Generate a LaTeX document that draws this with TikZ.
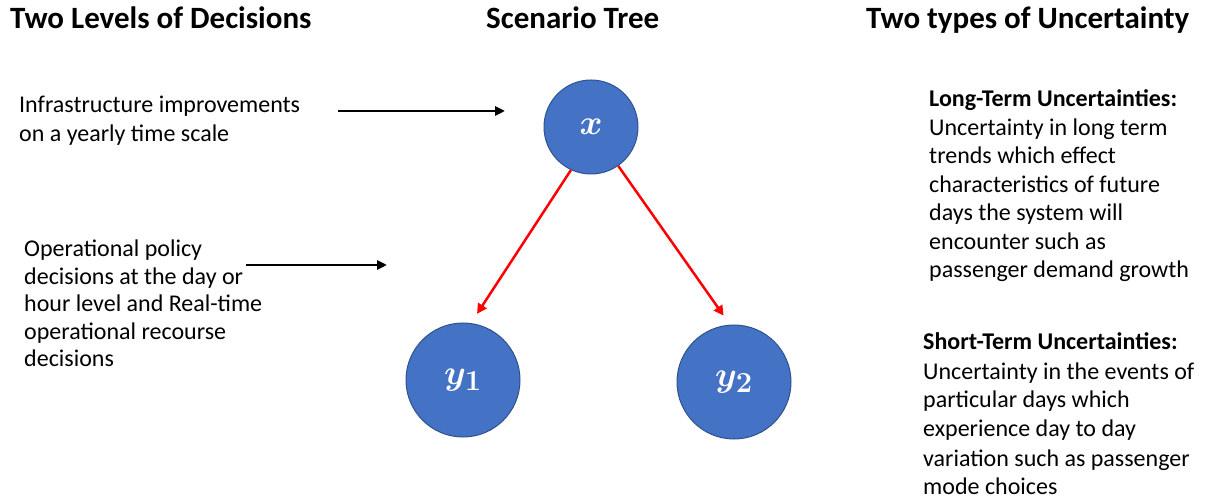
\documentclass[tikz,border=0pt]{standalone}
\usepackage{graphicx}
\usepackage{fontspec}
\setmainfont{Carlito}
\usetikzlibrary{arrows.meta}
\definecolor{nodeblue}{HTML}{4472C4}
\definecolor{nodeedge}{HTML}{2F528F}
\newcommand{\textlines}[1]{\begin{tabular}[t]{@{}l@{}}#1\end{tabular}}
\newcommand{\bigmath}[1]{\scalebox{1.4}{\boldmath$#1$}}
\begin{document}
\begin{tikzpicture}[x=1pt,y=-1pt,
  title/.style={font=\fontsize{31}{36}\selectfont\bfseries, inner sep=0pt, anchor=base west},
  body/.style={font=\fontsize{24}{28.5}\selectfont, inner sep=0pt, anchor=base west},
  tree/.style={circle, fill=nodeblue, draw=nodeedge, line width=1pt, text=white, inner sep=0pt,
    font=\fontsize{24.88}{30}\selectfont},
  redarrow/.style={draw=red, line width=2.5pt, -{Triangle[length=10pt,width=10pt]}, shorten >=11pt},
  blackarrow/.style={draw=black, line width=2.5pt, -{Triangle[length=10pt,width=9pt]}}]
\useasboundingbox (0,0) rectangle (1207,502);
% titles
\node[title] (t1) at (10,29) {Two Levels of Decisions};
\node[title] (t2) at (486,29) {Scenario Tree};
\node[title] (t3) at (866,29) {Two types of Uncertainty};
% left texts
\node[body] (l1) at (19,113) {\textlines{Infrastructure improvements\\on a yearly time scale}};
\node[body, font=\fontsize{24}{27.5}\selectfont] (l2) at (24,257) {\textlines{Operational policy\\decisions at the day or\\hour level and Real-time\\operational recourse\\decisions}};
% right texts
\node[body] (r1) at (929,107) {\textlines{\textbf{Long-Term Uncertainties:}\\Uncertainty in long term\\trends which effect\\characteristics of future\\days the system will\\encounter such as\\passenger demand growth}};
\node[body, font=\fontsize{24}{29}\selectfont] (r2) at (923,350) {\textlines{\textbf{Short-Term Uncertainties:}\\Uncertainty in the events of\\particular days which\\experience day to day\\variation such as passenger\\mode choices}};
% tree
\node[tree, minimum size=94pt] (x) at (591,127) {\bigmath{x}};
\node[tree, minimum size=114pt] (y1) at (463,380) {\bigmath{y_1}};
\node[tree, minimum size=114pt] (y2) at (734,382) {\bigmath{y_2}};
\draw[redarrow] (x.245) -- (y1.82);
\draw[redarrow] (x.305) -- (y2.94);
% black arrows
\coordinate (a1s) at (338,111);
\coordinate (a1e) at (505,111);
\coordinate (a2s) at (246,265);
\coordinate (a2e) at (387,265);
\draw[blackarrow] (a1s) -- (a1e);
\draw[blackarrow] (a2s) -- (a2e);
\end{tikzpicture}
\end{document}
